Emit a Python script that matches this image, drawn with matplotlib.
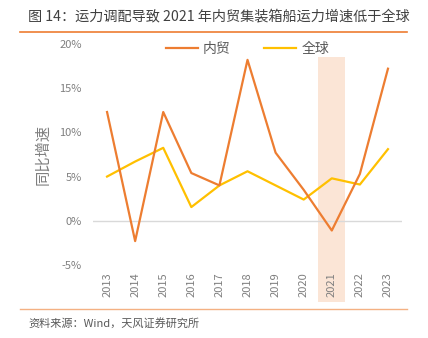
import numpy as np
import matplotlib
matplotlib.use("Agg")
import matplotlib.pyplot as plt
from matplotlib.patches import Rectangle
from matplotlib.lines import Line2D
import matplotlib.transforms as mtransforms

plt.rcParams['font.family'] = ['Noto Sans CJK SC', 'DejaVu Sans']

years = ['2013', '2014', '2015', '2016', '2017', '2018', '2019', '2020', '2021', '2022', '2023']
domestic = [12.3, -2.3, 12.3, 5.4, 4.0, 18.2, 7.7, 3.5, -1.1, 5.3, 17.2]
world = [5.0, 6.7, 8.25, 1.55, 4.0, 5.6, 4.0, 2.4, 4.8, 4.1, 8.1]
yticks = [-5, 0, 5, 10, 15, 20]
highlight = '2021'

fig = plt.figure(figsize=(4.28, 3.38), dpi=100)
ax = fig.add_axes([0.2173, 0.216, 0.722, 0.654])

x = np.arange(len(years))
grey = '#7F7F7F'

# highlight band for 2021
hx = years.index(highlight)
trans = mtransforms.blended_transform_factory(ax.transData, ax.transAxes)
ax.add_patch(Rectangle((hx - 0.48, -0.167), 0.96, 1.108, transform=trans,
                       facecolor='#FBE5D6', edgecolor='none', clip_on=False, zorder=0))

ax.axhline(0, color='#D9D9D9', lw=1, zorder=1)
ax.plot(x, domestic, color='#ED7D31', lw=1.6, zorder=3, label='内贸')
ax.plot(x, world, color='#FFC000', lw=1.6, zorder=2, label='全球')

ax.set_xlim(-0.5, len(years) - 0.5)
ax.set_ylim(-5, 20)
ax.set_yticks(yticks)
ax.set_yticklabels(['%d%%' % v for v in yticks])
ax.set_xticks(x)
ax.set_xticklabels(years, rotation=90)
ax.tick_params(axis='y', length=0, pad=8, labelsize=8, labelcolor=grey)
ax.tick_params(axis='x', length=0, pad=5, labelsize=8, labelcolor=grey)
for s in ax.spines.values():
    s.set_visible(False)
ax.set_ylabel('同比增速', fontsize=11, color=grey, labelpad=6)

handles = [Line2D([], [], color='#ED7D31', lw=1.6), Line2D([], [], color='#FFC000', lw=1.6)]
ax.legend(handles, ['内贸', '全球'], loc='upper center', bbox_to_anchor=(0.5, 1.065),
          ncol=2, frameon=False, fontsize=10, labelcolor='#595959',
          handlelength=2.3, handletextpad=0.4, columnspacing=2.4)

# title, separators and footer
fig.text(0.066, 0.95, '图 14：运力调配导致 2021 年内贸集装箱船运力增速低于全球',
         fontsize=10.2, color='#404040', va='center', ha='left')
fig.add_artist(Line2D([0.047, 0.951], [0.905, 0.905], color='#ED7D31', lw=1.2))
fig.add_artist(Line2D([0.047, 0.951], [0.086, 0.086], color='#F4B183', lw=1.0))
fig.text(0.066, 0.044, '资料来源：Wind，天风证券研究所', fontsize=8, color='#595959',
         va='center', ha='left')

fig.savefig('out.png', dpi=100)
